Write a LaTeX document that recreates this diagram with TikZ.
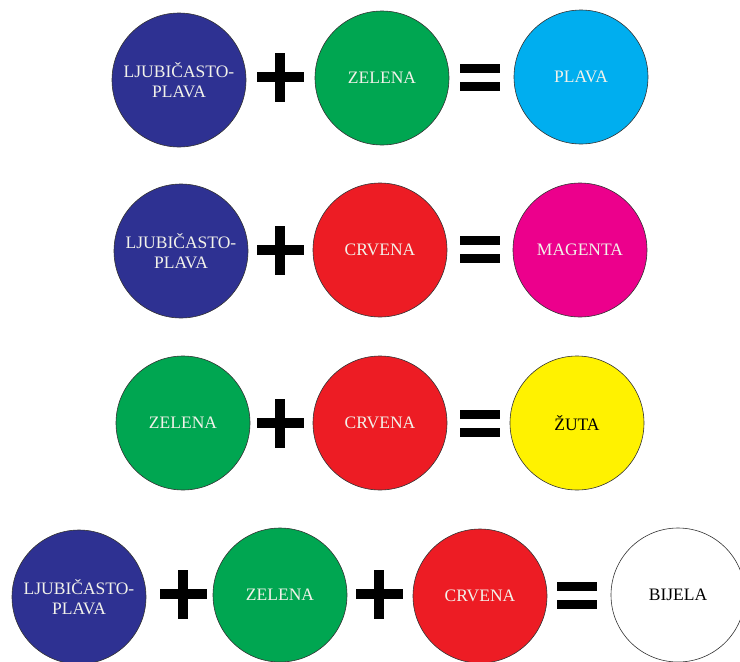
\documentclass[tikz,border=0pt]{standalone}
\usepackage{fontspec}
\setmainfont{Liberation Serif}
\definecolor{cviolet}{HTML}{2E3192}
\definecolor{cgreen}{HTML}{00A651}
\definecolor{ccyan}{HTML}{00AEEF}
\definecolor{cred}{HTML}{ED1C24}
\definecolor{cmagenta}{HTML}{EC008C}
\definecolor{cyellow}{HTML}{FFF200}
\definecolor{ctext}{HTML}{F2F2EA}
\tikzset{
  disc/.style={circle, draw=black!80, line width=0.6pt, minimum size=134pt, inner sep=0pt,
    align=center, font=\fontsize{17.5}{20}\selectfont, text=ctext},
  plussign/.pic={\fill[black] (-23.5,-5) rectangle (23.5,5);
                 \fill[black] (-5,-24.5) rectangle (5,24.5);},
  equalsign/.pic={\fill[black] (-20,-13.5) rectangle (20,-4.5);
                  \fill[black] (-20,4.5) rectangle (20,13.5);}
}
\begin{document}
\begin{tikzpicture}[x=1pt,y=-1pt]
\useasboundingbox (0,0) rectangle (740,662);
% row 1
\node[disc, fill=cviolet] (a1) at (179,80) {LJUBIČASTO-\\PLAVA};
\pic at (280,77) {plussign};
\node[disc, fill=cgreen] (b1) at (382,78) {ZELENA};
\pic at (480,77) {equalsign};
\node[disc, fill=ccyan] (c1) at (581,77) {PLAVA};
% row 2
\node[disc, fill=cviolet] (a2) at (181,251) {LJUBIČASTO-\\PLAVA};
\pic at (280,250) {plussign};
\node[disc, fill=cred] (b2) at (380,250) {CRVENA};
\pic at (480,249) {equalsign};
\node[disc, fill=cmagenta] (c2) at (580,250) {MAGENTA};
% row 3
\node[disc, fill=cgreen] (a3) at (183,423) {ZELENA};
\pic at (280,423) {plussign};
\node[disc, fill=cred] (b3) at (380,423) {CRVENA};
\pic at (480,423) {equalsign};
\node[disc, fill=cyellow, text=black] (c3) at (577,423) {ŽUTA};
% row 4
\node[disc, fill=cviolet] (a4) at (79,597) {LJUBIČASTO-\\PLAVA};
\pic at (183,594) {plussign};
\node[disc, fill=cgreen] (b4) at (280,595) {ZELENA};
\pic at (379,594) {plussign};
\node[disc, fill=cred] (c4) at (480,596) {CRVENA};
\pic at (577,595) {equalsign};
\node[disc, fill=white, text=black] (d4) at (678,595) {BIJELA};
\end{tikzpicture}
\end{document}
